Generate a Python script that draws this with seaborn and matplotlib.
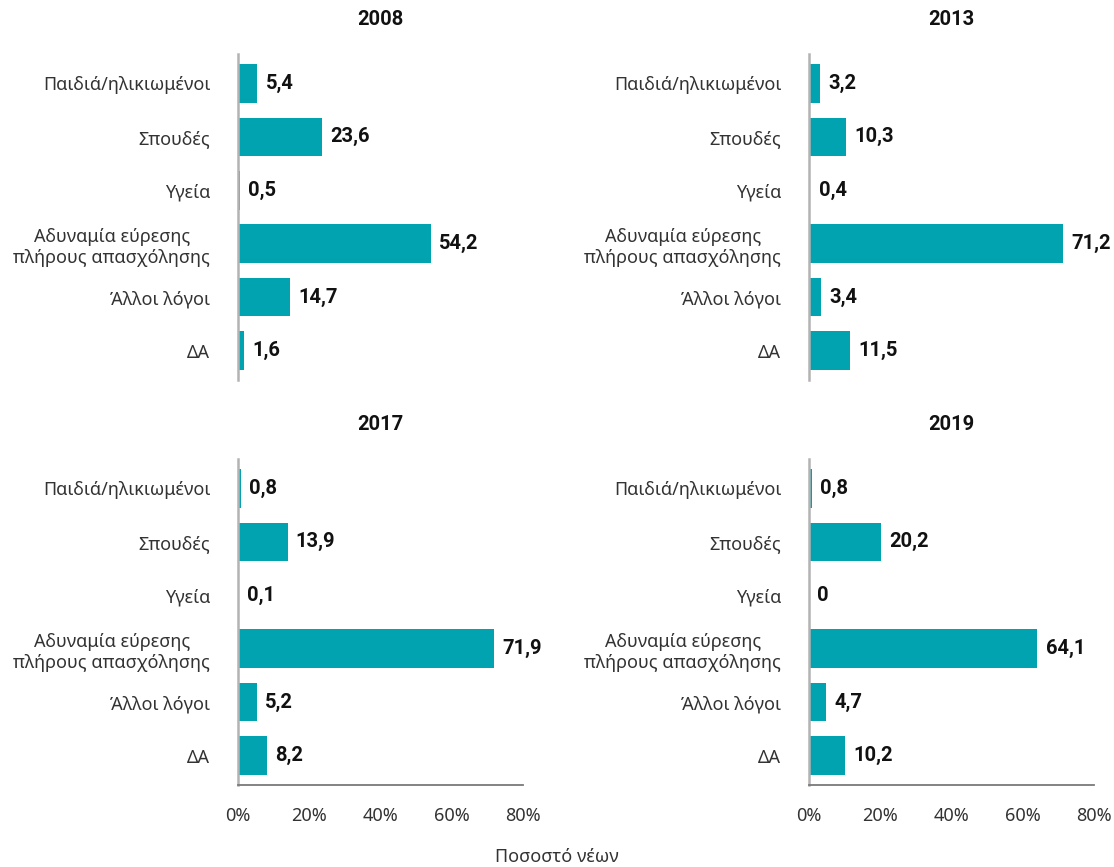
import matplotlib
matplotlib.use("Agg")
import matplotlib.pyplot as plt
import seaborn as sns
import pandas as pd

sns.set_style("white")
plt.rcParams['font.family'] = ['Noto Sans', 'DejaVu Sans']

categories = ["Παιδιά/ηλικιωμένοι", "Σπουδές", "Υγεία",
              "Αδυναμία εύρεσης\nπλήρους απασχόλησης", "Άλλοι λόγοι", "ΔΑ"]
years = ["2008", "2013", "2017", "2019"]
values_2008 = [5.4, 23.6, 0.5, 54.2, 14.7, 1.6]
values_2013 = [3.2, 10.3, 0.4, 71.2, 3.4, 11.5]
values_2017 = [0.8, 13.9, 0.1, 71.9, 5.2, 8.2]
values_2019 = [0.8, 20.2, 0.0, 64.1, 4.7, 10.2]
x_ticks = [0, 20, 40, 60, 80]
x_ticklabels = ["0%", "20%", "40%", "60%", "80%"]

all_values = [values_2008, values_2013, values_2017, values_2019]
bar_color = "#00A3AF"
bold_font = ['Roboto', 'Open Sans', 'DejaVu Sans']

W, H = 1114, 867
fig = plt.figure(figsize=(W / 100, H / 100), dpi=100)

# axes boxes in pixels: (left, top)
boxes = [(238, 54), (809, 54), (238, 459), (809, 459)]
ax_w, ax_h = 285, 326

for i, (year, vals) in enumerate(zip(years, all_values)):
    left, top = boxes[i]
    ax = fig.add_axes([left / W, 1 - (top + ax_h) / H, ax_w / W, ax_h / H])
    df = pd.DataFrame({"cat": categories, "val": vals})
    sns.barplot(data=df, y="cat", x="val", orient="h", color=bar_color,
                saturation=1, width=0.72, linewidth=0, ax=ax)
    ax.set_xlim(0, 80)
    ax.set_ylim(5.55, -0.55)
    ax.set_ylabel("")
    ax.set_xlabel("")
    ax.set_title(year, fontsize=14.5, fontweight="bold", pad=21, color="#111111",
                 family=bold_font)

    for j, v in enumerate(vals):
        txt = f"{v:g}".replace(".", ",")
        ax.annotate(txt, (v, j), xytext=(6, 0), textcoords="offset points",
                    ha="left", va="center", fontsize=14.5, fontweight="bold",
                    color="#111111", family=bold_font)

    for s in ["top", "right"]:
        ax.spines[s].set_visible(False)
    ax.spines["left"].set_color("#b3b3b3")
    ax.spines["left"].set_linewidth(1.8)
    ax.tick_params(axis="y", length=0, pad=20, labelsize=13, labelcolor="#333333")
    for lab in ax.get_yticklabels():
        lab.set_multialignment("center")

    if i < 2:
        ax.spines["bottom"].set_visible(False)
        ax.set_xticks([])
    else:
        ax.spines["bottom"].set_color("#7a7a7a")
        ax.spines["bottom"].set_linewidth(1.3)
        ax.set_xticks(x_ticks)
        ax.set_xticklabels(x_ticklabels)
        ax.tick_params(axis="x", direction="in", length=5, width=1.2,
                       color="#9a9a9a", pad=16, labelsize=13, labelcolor="#333333")

fig.text(557 / W, 1 - 857 / H, "Ποσοστό νέων", ha="center", va="center",
         fontsize=13, color="#333333")

fig.savefig("out.png", dpi=100)
